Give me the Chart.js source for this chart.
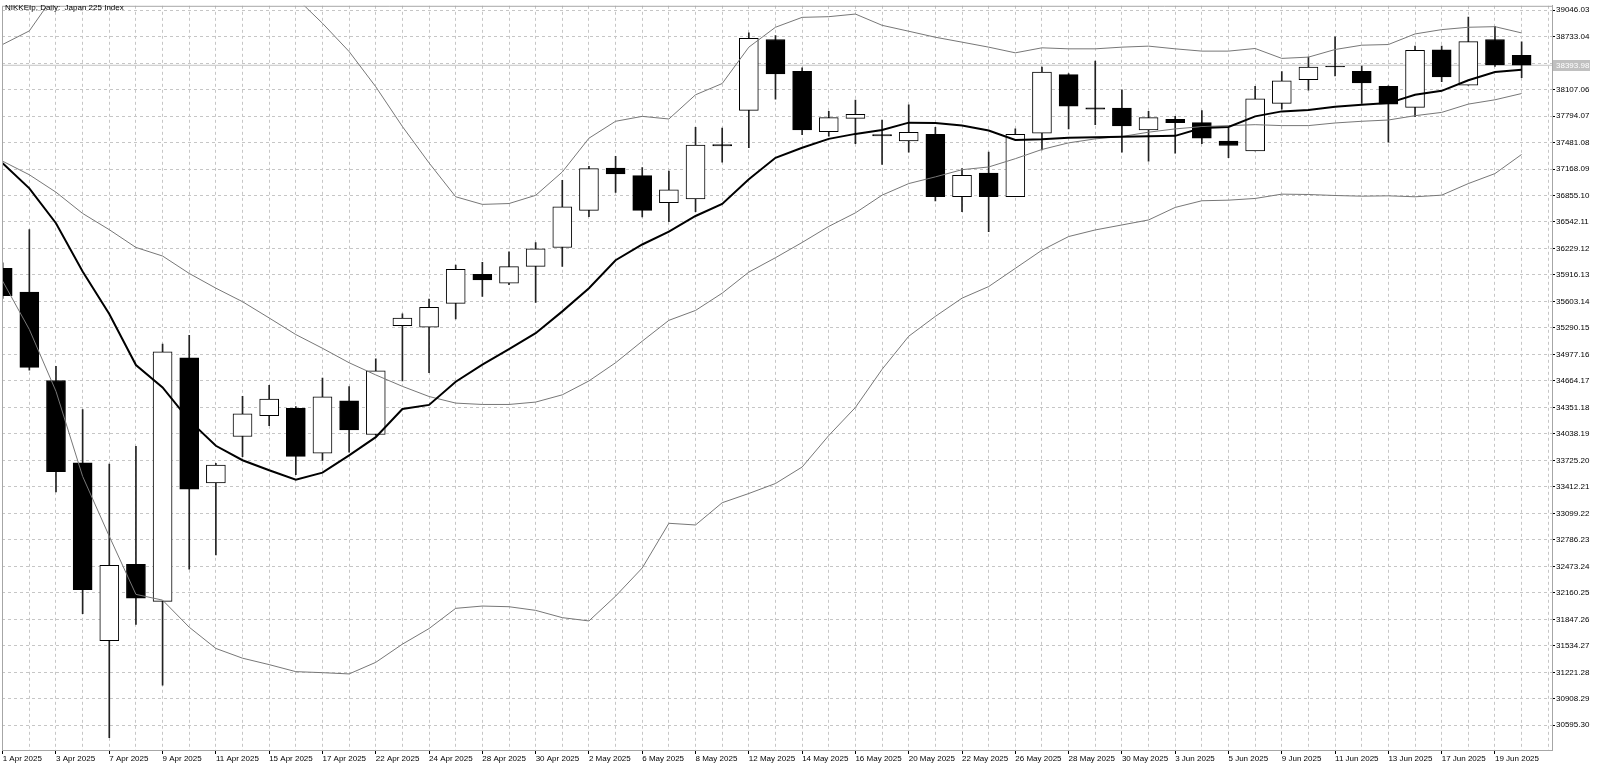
<!DOCTYPE html>
<html>
<head>
<meta charset="utf-8">
<title>NIKKEIp, Daily</title>
<script src="https://cdn.jsdelivr.net/npm/chart.js@4.4.1/dist/chart.umd.min.js"></script>
<style>
  html, body { margin: 0; padding: 0; background: #fff; }
  #wrap { width: 1600px; height: 769px; }
</style>
</head>
<body>
<div id="wrap"><canvas id="chart" width="1600" height="769"></canvas></div>
<script>
// trading days shown on the chart
const dates = [
  '1 Apr 2025', '2 Apr 2025', '3 Apr 2025', '4 Apr 2025', '7 Apr 2025', '8 Apr 2025', '9 Apr 2025', '10 Apr 2025',
  '11 Apr 2025', '14 Apr 2025', '15 Apr 2025', '16 Apr 2025', '17 Apr 2025', '21 Apr 2025', '22 Apr 2025', '23 Apr 2025',
  '24 Apr 2025', '25 Apr 2025', '28 Apr 2025', '29 Apr 2025', '30 Apr 2025', '1 May 2025', '2 May 2025', '5 May 2025',
  '6 May 2025', '7 May 2025', '8 May 2025', '9 May 2025', '12 May 2025', '13 May 2025', '14 May 2025', '15 May 2025',
  '16 May 2025', '19 May 2025', '20 May 2025', '21 May 2025', '22 May 2025', '23 May 2025', '26 May 2025', '27 May 2025',
  '28 May 2025', '29 May 2025', '30 May 2025', '2 Jun 2025', '3 Jun 2025', '4 Jun 2025', '5 Jun 2025', '6 Jun 2025',
  '9 Jun 2025', '10 Jun 2025', '11 Jun 2025', '12 Jun 2025', '13 Jun 2025', '16 Jun 2025', '17 Jun 2025', '18 Jun 2025',
  '19 Jun 2025', '20 Jun 2025'
];

const opens = [
  35994, 35715, 34669, 33696, 31594, 32498, 32060, 34938, 33459, 34007,
  34254, 34340, 33811, 34430, 34031, 35318, 35298, 35580, 35924, 35818,
  36018, 36241, 36679, 37180, 37090, 36769, 36816, 37458, 37861, 38698,
  38322, 37610, 37767, 37575, 37501, 37579, 36840, 37121, 36840, 37591,
  38283, 37892, 37888, 37630, 37755, 37716, 37497, 37383, 37943, 38224,
  38380, 38322, 38146, 37896, 38577, 38158, 38698, 38510
];
const highs = [
  36060, 36451, 34838, 34326, 33682, 33892, 35098, 35203, 33690, 34483,
  34613, 34360, 34699, 34598, 34926, 35458, 35631, 36034, 36065, 36190,
  36300, 37035, 37200, 37317, 37185, 37145, 37661, 37653, 38776, 38745,
  38365, 37849, 37982, 37747, 37927, 37661, 37172, 37368, 37642, 38373,
  38295, 38444, 38103, 37849, 37790, 37857, 37653, 38146, 38318, 38490,
  38729, 38385, 38150, 38620, 38620, 38964, 38854, 38670
];
const lows = [
  35640, 34792, 33353, 31914, 30450, 31786, 31068, 32439, 32608, 33770,
  34136, 33557, 33725, 33823, 34020, 34664, 34762, 35396, 35662, 35800,
  35591, 36018, 36605, 36890, 36601, 36546, 36664, 37250, 37419, 37994,
  37575, 37556, 37466, 37223, 37368, 36792, 36664, 36429, 36840, 37395,
  37642, 37692, 37368, 37262, 37356, 37466, 37301, 37383, 37876, 38099,
  38268, 37943, 37485, 37786, 38201, 38158, 38381, 38248
];
const closes = [
  35670, 34824, 33591, 32197, 32485, 32096, 35007, 33385, 33670, 34275,
  34449, 33772, 34477, 34085, 34782, 35408, 35533, 35983, 35857, 36014,
  36225, 36722, 37172, 37110, 36679, 36922, 37450, 37442, 38713, 38291,
  37630, 37775, 37814, 37560, 37602, 36840, 37094, 36840, 37579, 38314,
  37912, 37876, 37677, 37775, 37716, 37532, 37446, 37998, 38209, 38373,
  38375, 38185, 37935, 38569, 38256, 38674, 38397, 38393.98
];

// thick moving average
const maLine = [
  37237, 36940, 36528, 35957, 35455, 34852, 34587, 34198, 33898, 33727,
  33608, 33498, 33580, 33784, 34000, 34332, 34381, 34655, 34856, 35040,
  35228, 35486, 35760, 36090, 36276, 36427, 36613, 36755, 37047, 37301,
  37419, 37524, 37583, 37630, 37716, 37712, 37681, 37622, 37512, 37520,
  37536, 37544, 37548, 37556, 37560, 37653, 37665, 37790, 37849, 37864,
  37904, 37927, 37947, 38045, 38092, 38217, 38315, 38342
];

// bollinger bands
const bbUpper = [
  38640, 38800, 39250, 39750, 40070, 40340, 40210, 40110, 39980, 39800,
  39500, 39195, 38890, 38556, 38140, 37670, 37240, 36840, 36750, 36760,
  36857, 37133, 37532, 37732, 37790, 37759, 38045, 38178, 38608, 38843,
  38960, 38968, 38999, 38866, 38796, 38725, 38667, 38608, 38541, 38600,
  38588, 38588, 38608, 38620, 38588, 38561, 38561, 38592, 38475, 38490,
  38580, 38631, 38639, 38764, 38815, 38843, 38850, 38776
];
const bbMiddle = [
  37260, 37100, 36894, 36643, 36451, 36241, 36140, 35934, 35760, 35600,
  35408, 35212, 35050, 34879, 34735, 34600, 34480, 34402, 34386, 34386,
  34414, 34500, 34664, 34879, 35134, 35380, 35497, 35701, 35950, 36120,
  36300, 36490, 36650, 36859, 36996, 37075, 37160, 37192, 37290, 37399,
  37477, 37524, 37552, 37603, 37642, 37669, 37681, 37692, 37681, 37681,
  37712, 37732, 37747, 37798, 37837, 37935, 37986, 38060
];
const bbLower = [
  35843, 35272, 34541, 33536, 32828, 32142, 32074, 31754, 31503, 31388,
  31312, 31229, 31217, 31202, 31339, 31554, 31738, 31977, 32004, 31996,
  31953, 31867, 31828, 32121, 32454, 32982, 32962, 33225, 33334, 33452,
  33647, 34019, 34351, 34801, 35192, 35427, 35642, 35779, 35994, 36209,
  36370, 36448, 36507, 36566, 36714, 36793, 36800, 36820, 36871, 36867,
  36855, 36847, 36851, 36840, 36859, 36996, 37114, 37340
];

// price axis
const priceTicks = [
  30595.30, 30908.29, 31221.28, 31534.27, 31847.26, 32160.25, 32473.24, 32786.23,
  33099.22, 33412.21, 33725.20, 34038.19, 34351.18, 34664.17, 34977.16, 35290.15,
  35603.14, 35916.13, 36229.12, 36542.11, 36855.10, 37168.09, 37481.08, 37794.07,
  38107.06, 38420.05, 38733.04, 39046.03
];
const priceTickLabels = [
  '30595.30', '30908.29', '31221.28', '31534.27', '31847.26', '32160.25', '32473.24', '32786.23',
  '33099.22', '33412.21', '33725.20', '34038.19', '34351.18', '34664.17', '34977.16', '35290.15',
  '35603.14', '35916.13', '36229.12', '36542.11', '36855.10', '37168.09', '37481.08', '37794.07',
  '38107.06', '38420.05', '38733.04', '39046.03'
];

const titleText = 'NIKKEIp, Daily:  Japan 225 Index';
const FONT = "'Liberation Sans', Arial, sans-serif";

const idx = dates.map((d, i) => i);
const gridIdx = idx.concat([dates.length]);
const lastClose = closes[closes.length - 1];
const pts = arr => arr.map((v, i) => ({ x: i, y: v }));

// title, frame and the last price tag
const overlay = {
  id: 'overlay',
  afterDraw(chart) {
    const { ctx, chartArea: a, scales } = chart;
    ctx.save();
    ctx.strokeStyle = '#a6a6a6';
    ctx.lineWidth = 1;
    ctx.beginPath();
    ctx.moveTo(a.left + 0.5, a.bottom);
    ctx.lineTo(a.left + 0.5, a.top + 0.5);
    ctx.lineTo(a.right, a.top + 0.5);
    ctx.stroke();

    ctx.font = '8px ' + FONT;
    ctx.fillStyle = '#000';
    ctx.textBaseline = 'middle';
    ctx.fillText(titleText, 5, 8);

    const py = Math.round(scales.y.getPixelForValue(lastClose));
    ctx.fillStyle = '#c0c0c0';
    ctx.fillRect(a.right + 1, py - 5, 37, 11);
    ctx.fillStyle = '#fff';
    ctx.fillText(lastClose.toFixed(2), a.right + 4, py + 0.5);
    ctx.restore();
  }
};

const ctx = document.getElementById('chart').getContext('2d');

new Chart(ctx, {
  data: {
    datasets: [
      {
        type: 'line', label: 'last', data: [{ x: -1, y: lastClose }, { x: 60, y: lastClose }],
        borderColor: '#c4c4c4', borderWidth: 1, pointRadius: 0, clip: 0, order: 10
      },
      {
        type: 'bar', label: 'wick', data: idx.map(i => ({ x: i, y: [lows[i], highs[i]] })),
        backgroundColor: '#222', barThickness: 1, grouped: false, clip: 0, order: 6
      },
      {
        type: 'bar', label: 'body', data: idx.map(i => ({ x: i, y: [opens[i], closes[i]] })),
        backgroundColor: idx.map(i => closes[i] < opens[i] ? '#000' : '#fff'),
        borderColor: '#000', borderWidth: 1, borderSkipped: false,
        barThickness: 19, grouped: false, clip: 0, order: 5
      },
      {
        type: 'line', label: 'upper', data: pts(bbUpper),
        borderColor: '#777', borderWidth: 1, pointRadius: 0, tension: 0, clip: 0, order: 3
      },
      {
        type: 'line', label: 'middle', data: pts(bbMiddle),
        borderColor: '#777', borderWidth: 1, pointRadius: 0, tension: 0, clip: 0, order: 3
      },
      {
        type: 'line', label: 'lower', data: pts(bbLower),
        borderColor: '#777', borderWidth: 1, pointRadius: 0, tension: 0, clip: 0, order: 3
      },
      {
        type: 'line', label: 'ma', data: pts(maLine),
        borderColor: '#000', borderWidth: 2, pointRadius: 0, tension: 0, clip: 0, order: 1
      }
    ]
  },
  options: {
    responsive: false,
    animation: false,
    devicePixelRatio: 1,
    events: [],
    layout: { padding: { left: 2, top: 1, right: 0, bottom: 0 } },
    plugins: {
      legend: { display: false },
      tooltip: { enabled: false }
    },
    scales: {
      x: {
        type: 'linear',
        min: -0.026,
        max: 58.14,
        offset: false,
        afterBuildTicks: s => { s.ticks = gridIdx.map(v => ({ value: v })); },
        afterFit: s => { s.height = 19; },
        ticks: {
          autoSkip: false,
          maxRotation: 0,
          align: 'start',
          padding: 0,
          color: '#000',
          font: { family: FONT, size: 8 },
          callback: (v, i) => (i % 2 === 0 && i < dates.length) ? dates[i] : ''
        },
        grid: {
          offset: false,
          color: '#c6c6c6',
          tickLength: 4,
          tickColor: c => (c.index % 2 === 0 && c.index < dates.length) ? '#000' : 'rgba(0,0,0,0)'
        },
        border: { color: '#a6a6a6', width: 1, dash: [3, 3] }
      },
      y: {
        type: 'linear',
        position: 'right',
        min: 30303.2,
        max: 39096.5,
        afterBuildTicks: s => { s.ticks = priceTicks.map(v => ({ value: v })); },
        afterFit: s => { s.width = 48; },
        ticks: {
          autoSkip: false,
          padding: 1,
          color: '#000',
          font: { family: FONT, size: 8 },
          callback: (v, i) => priceTickLabels[i]
        },
        grid: { color: '#c6c6c6', tickLength: 3, tickColor: '#000' },
        border: { color: '#a6a6a6', width: 1, dash: [3, 3] }
      }
    }
  },
  plugins: [overlay]
});
</script>
</body>
</html>
